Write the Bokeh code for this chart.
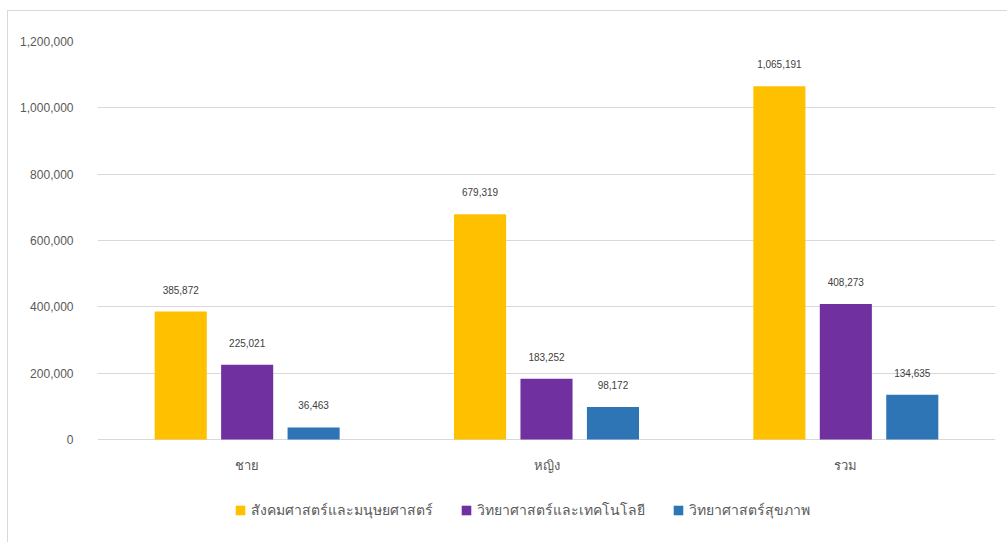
from bokeh.plotting import figure
from bokeh.models import (ColumnDataSource, FactorRange, LabelSet, Legend, LegendItem,
                          NumeralTickFormatter, FixedTicker, Range1d)
from bokeh.transform import dodge
from bokeh.core.properties import value
from bokeh.embed import file_html
from bokeh.resources import INLINE

categories = ["ชาย", "หญิง", "รวม"]
series_names = ["สังคมศาสตร์และมนุษยศาสตร์", "วิทยาศาสตร์และเทคโนโลยี", "วิทยาศาสตร์สุขภาพ"]
social = [385872, 679319, 1065191]
scitech = [225021, 183252, 408273]
health = [36463, 98172, 134635]
y_ticks = [0, 200000, 400000, 600000, 800000, 1000000, 1200000]
colors = ["#FFC000", "#7030A0", "#2E75B6"]

FONT = "Liberation Sans, Noto Sans, sans-serif"

# frame spans from the top gridline down to near the bottom edge, leaving room
# under the zero line for category labels and the legend
y_max = y_ticks[-1]
y_min = -y_max * 92 / 398

p = figure(width=1000, height=532,
           x_range=FactorRange(*categories, range_padding=0),
           y_range=Range1d(y_min, y_max),
           output_backend="svg", toolbar_location=None,
           min_border_left=89, min_border_top=30, min_border_right=13, min_border_bottom=12)
p.styles = {"margin-left": "7px", "margin-top": "10px",
            "border-left": "1px solid #d9d9d9", "border-top": "1px solid #d9d9d9"}
p.outline_line_color = None
p.background_fill_color = "white"

p.xgrid.grid_line_color = None
p.ygrid.grid_line_color = "#d9d9d9"
p.ygrid.grid_line_width = 1

p.yaxis.ticker = FixedTicker(ticks=y_ticks)
p.yaxis.formatter = NumeralTickFormatter(format="0,0")
p.yaxis.axis_line_color = None
p.yaxis.major_tick_line_color = None
p.yaxis.minor_tick_line_color = None
p.yaxis.major_label_text_font = FONT
p.yaxis.major_label_text_font_size = "12px"
p.yaxis.major_label_text_color = "#595959"
p.yaxis.major_label_standoff = 18

p.xaxis.visible = False

cat_src = ColumnDataSource(dict(cat=categories, base=[0] * len(categories)))
cat_labels = LabelSet(x="cat", y="base", text="cat", source=cat_src, y_offset=-26,
                      text_align="center", text_baseline="middle",
                      text_font=value("Liberation Sans"), text_font_size="13px",
                      text_color="#595959")
p.add_layout(cat_labels)

offsets = [-0.222, 0.0, 0.222]
series = [social, scitech, health]
items = []
for name, vals, col, off in zip(series_names, series, colors, offsets):
    src = ColumnDataSource(dict(cat=categories, val=vals, lbl=[f"{v:,}" for v in vals]))
    r = p.vbar(x=dodge("cat", off, range=p.x_range), top="val", width=0.174, source=src,
               fill_color=col, line_color=None)
    labels = LabelSet(x=dodge("cat", off, range=p.x_range), y="val", text="lbl", source=src,
                      y_offset=22, text_align="center", text_baseline="middle",
                      text_font=value("Liberation Sans"), text_font_size="10px",
                      text_color="#404040")
    p.add_layout(labels)
    items.append(LegendItem(label=name, renderers=[r]))

legend = Legend(items=items, orientation="horizontal", location=(137, 10),
                glyph_width=12, glyph_height=12, label_standoff=5, spacing=27,
                padding=0, margin=0, border_line_color=None, background_fill_alpha=0,
                label_text_font=FONT, label_text_font_size="14px", label_text_color="#595959")
p.add_layout(legend)

open("out.html", "w").write(file_html(p, INLINE))
